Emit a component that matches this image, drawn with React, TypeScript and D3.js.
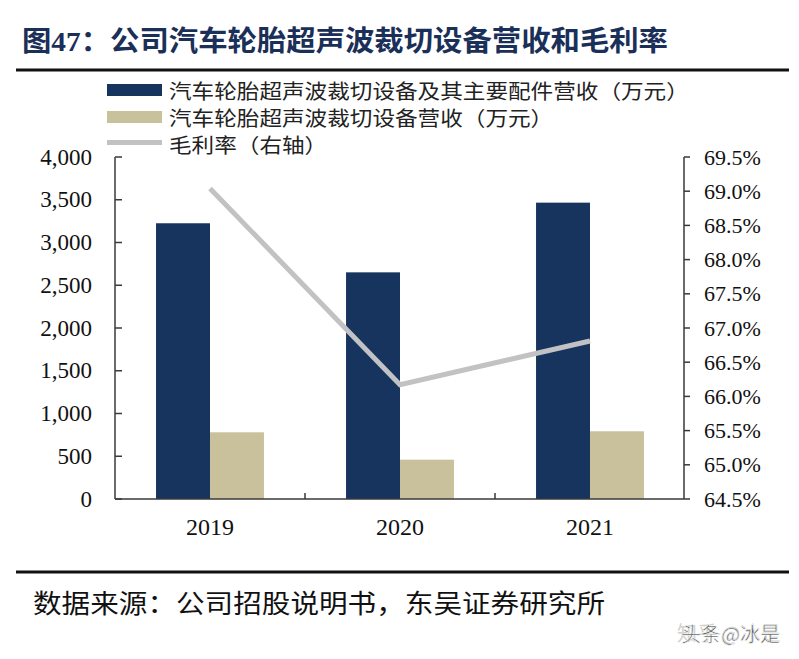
import React from "react";
import * as d3 from "d3";

const categories = ["2019", "2020", "2021"];
const totalRevenue = [3225, 2651, 3466];
const equipRevenue = [780, 460, 792];
const grossMargin = [69.04, 66.17, 66.81];
const leftTicks = [0, 500, 1000, 1500, 2000, 2500, 3000, 3500, 4000];
const rightTicks = [64.5, 65, 65.5, 66, 66.5, 67, 67.5, 68, 68.5, 69, 69.5];
const seriesNames = [
  "汽车轮胎超声波裁切设备及其主要配件营收（万元）",
  "汽车轮胎超声波裁切设备营收（万元）",
  "毛利率（右轴）",
];
const titleText = "图47：公司汽车轮胎超声波裁切设备营收和毛利率";
const sourceText = "数据来源：公司招股说明书，东吴证券研究所";

const NAVY = "#17345f";
const TAN = "#c9c19b";
const GRAY = "#c2c2c4";
const AXIS = "#3a3a3a";
const SERIF = "'Liberation Serif', 'Times New Roman', serif";
const CJK = "'Liberation Serif', 'Noto Sans CJK SC', sans-serif";

export default function App() {
  const W = 799, H = 659;
  const left = 115, right = 685, top = 157, bottom = 499;
  const x = d3.scaleBand<string>().domain(categories).range([left, right]).paddingInner(0.432).paddingOuter(0.216);
  const yL = d3.scaleLinear().domain([0, 4000]).range([bottom, top]);
  const yR = d3.scaleLinear().domain([64.5, 69.5]).range([bottom, top]);
  const bw = x.bandwidth() / 2;
  const step = x.step();
  const cx = (c: string) => (x(c) as number) + x.bandwidth() / 2;
  const line = d3.line<number>().x((_, i) => cx(categories[i])).y((v) => yR(v));
  const fmtL = d3.format(",");
  const fmtR = (v: number) => v.toFixed(1) + "%";
  const axisRight = 684;
  const legendCharW = 22.6;

  return (
    <svg width={W} height={H} style={{ display: "block", background: "#fff" }}>
      <style>{`body{margin:0}`}</style>
      <rect width={W} height={H} fill="#fff" />
      {/* title */}
      <text x={22} y={51} fontFamily={CJK} fontWeight={700} fontSize={28} fill="#1b3058"
        textLength={646} lengthAdjust="spacingAndGlyphs">{titleText}</text>
      <line x1={16} x2={789} y1={70} y2={70} stroke="#111" strokeWidth={3} />

      {/* legend */}
      <rect x={107} y={84} width={55} height={12} fill={NAVY} />
      <rect x={107} y={111} width={55} height={12} fill={TAN} />
      <rect x={107} y={140} width={55} height={5} fill={GRAY} />
      {seriesNames.map((s, i) => (
        <text key={s} x={169} y={90 + i * 27} dominantBaseline="central" fontFamily="'Noto Sans CJK SC', sans-serif"
          fontSize={20} fill="#222" textLength={s.length * legendCharW} lengthAdjust="spacingAndGlyphs">{s}</text>
      ))}

      {/* bars */}
      {categories.map((c, i) => (
        <g key={c}>
          <rect x={x(c) as number} y={yL(totalRevenue[i])} width={bw} height={bottom - yL(totalRevenue[i])} fill={NAVY} />
          <rect x={(x(c) as number) + bw} y={yL(equipRevenue[i])} width={bw} height={bottom - yL(equipRevenue[i])} fill={TAN} />
        </g>
      ))}

      {/* line */}
      <path d={line(grossMargin) || ""} fill="none" stroke={GRAY} strokeWidth={5} />

      {/* left axis */}
      <line x1={left} x2={left} y1={top} y2={bottom} stroke={AXIS} strokeWidth={1.5} />
      {leftTicks.map((t) => (
        <g key={t}>
          <line x1={left} x2={left + 7} y1={yL(t)} y2={yL(t)} stroke={AXIS} strokeWidth={1.5} />
          <text x={92} y={yL(t)} textAnchor="end" dominantBaseline="central" fontFamily={SERIF} fontSize={23} fill="#111">{fmtL(t)}</text>
        </g>
      ))}

      {/* right axis */}
      <line x1={axisRight} x2={axisRight} y1={top} y2={bottom} stroke={AXIS} strokeWidth={1.5} />
      {rightTicks.map((t) => (
        <g key={t}>
          <line x1={axisRight} x2={axisRight + 6} y1={yR(t)} y2={yR(t)} stroke={AXIS} strokeWidth={1.5} />
          <text x={704} y={yR(t)} dominantBaseline="central" fontFamily={SERIF} fontSize={22} fill="#111">{fmtR(t)}</text>
        </g>
      ))}

      {/* x axis */}
      <line x1={left} x2={axisRight} y1={bottom} y2={bottom} stroke={AXIS} strokeWidth={1.5} />
      {categories.slice(1).map((c) => (
        <line key={c} x1={(x(c) as number) - (step - x.bandwidth()) / 2} x2={(x(c) as number) - (step - x.bandwidth()) / 2}
          y1={bottom} y2={bottom - 6} stroke={AXIS} strokeWidth={1.5} />
      ))}
      {categories.map((c) => (
        <text key={c} x={cx(c)} y={527} textAnchor="middle" dominantBaseline="central" fontFamily={SERIF} fontSize={24} fill="#111">{c}</text>
      ))}

      {/* source */}
      <line x1={16} x2={789} y1={572} y2={572} stroke="#111" strokeWidth={3} />
      <text x={33} y={601} dominantBaseline="central" fontFamily="'Noto Sans CJK SC', sans-serif" fontSize={26} fill="#111"
        textLength={572} lengthAdjust="spacingAndGlyphs">{sourceText}</text>

      {/* watermark */}
      <text x={677} y={632} dominantBaseline="central" fontFamily="'Noto Sans CJK SC', sans-serif" fontSize={20} fill="#d0d0d0">知乎 @冰是</text>
      <text x={681} y={633} dominantBaseline="central" fontFamily="'Noto Sans CJK SC', sans-serif" fontSize={20} fill="#333"
        stroke="#fff" strokeWidth={0.6} opacity={0.8}>头条@冰是</text>
    </svg>
  );
}
